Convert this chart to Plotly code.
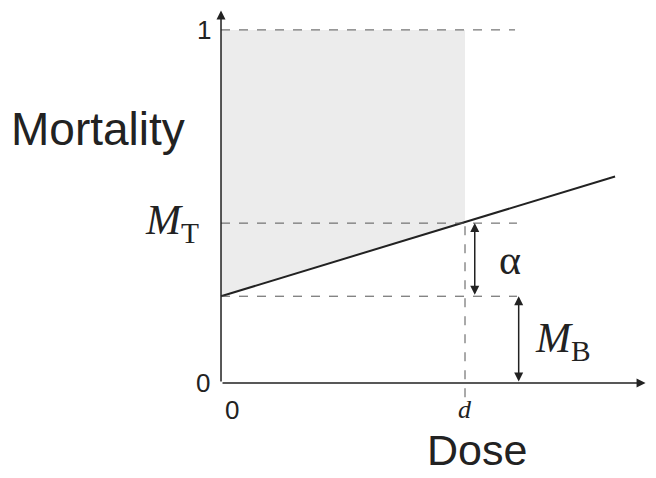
import plotly.graph_objects as go

d = 1.0
MB = 0.246
MT = 0.453
line_x = [0.0, 1.615]
line_y = [MB, 0.585]
xmax = 1.74
ymax = 1.055

fig = go.Figure()
fig.add_trace(go.Scatter(x=[0, d, d, 0, 0], y=[MB, MT, 1, 1, MB], fill="toself",
                         fillcolor="#ececec", line=dict(width=0), mode="lines", hoverinfo="skip"))
fig.add_trace(go.Scatter(x=line_x, y=line_y, mode="lines", line=dict(color="#222", width=2)))

dash = dict(color="#555", width=1, dash="dash")
for yv, x1 in [(1, 1.205), (MT, 1.213), (MB, 1.213)]:
    fig.add_shape(type="line", x0=0, x1=x1, y0=yv, y1=yv, line=dash)
fig.add_shape(type="line", x0=d, x1=d, y0=-0.04, y1=MT, line=dash)

def arrow(x0, y0, x1, y1, both=False):
    fig.add_annotation(x=x1, y=y1, ax=x0, ay=y0, xref="x", yref="y", axref="x", ayref="y",
                       showarrow=True, arrowhead=2, arrowsize=1.2, arrowwidth=1.5, arrowcolor="#222",
                       arrowside="end+start" if both else "end", text="")

arrow(0, 0, 0, ymax)
arrow(0, 0, xmax, 0)
arrow(1.04, MB, 1.04, MT, both=True)
arrow(1.22, 0, 1.22, MB, both=True)

F = "Liberation Sans, Arial"
def txt(x, y, s, size, italic=False, xa="center", ya="middle"):
    fig.add_annotation(x=x, y=y, text=s, showarrow=False, xanchor=xa, yanchor=ya,
                       borderpad=0, font=dict(family=("Liberation Serif" if italic else F), size=size, color="#222"))

txt(-0.505, 0.72, "Mortality", 46)
txt(-0.2, MT, "<i>M</i><sub>T</sub>", 42, italic=True)
txt(-0.07, 1, "1", 26)
txt(-0.075, 0, "0", 26)
txt(0.045, -0.075, "0", 26)
txt(d, -0.075, "<i>d</i>", 26, italic=True)
txt(1.05, -0.19, "Dose", 43)
txt(1.185, (MB + MT) / 2, "α", 42, italic=True)
txt(1.40, 0.12, "<i>M</i><sub>B</sub>", 42, italic=True)

fig.update_layout(width=640, height=462, margin=dict(l=0, r=0, t=0, b=0),
                  plot_bgcolor="white", paper_bgcolor="white", showlegend=False,
                  xaxis=dict(range=[-0.873, 1.750], visible=False),
                  yaxis=dict(range=[-0.246, 1.062], visible=False))
fig.write_html("out.html")
